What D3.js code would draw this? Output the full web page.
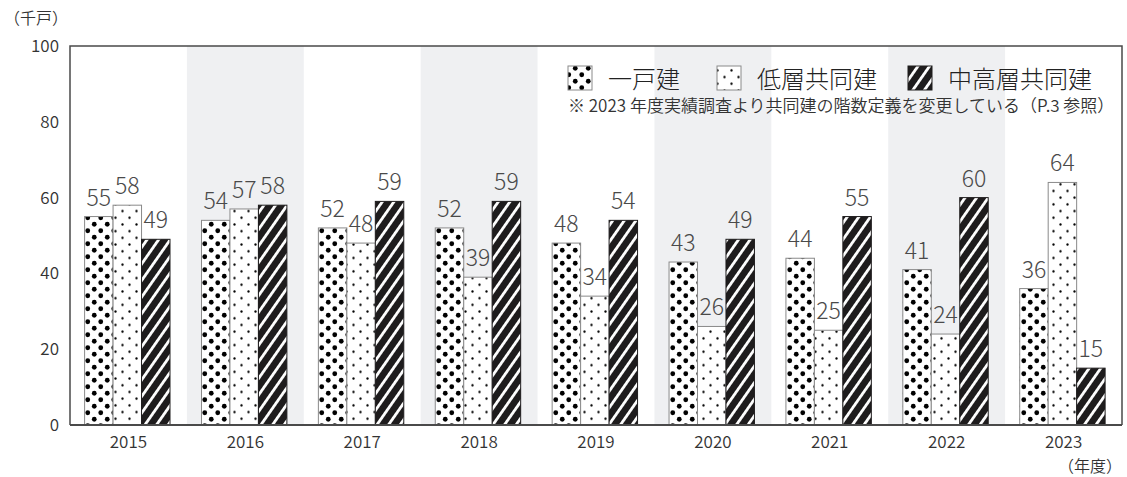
<!DOCTYPE html>
<html>
<head>
<meta charset="utf-8">
<script src="https://cdn.jsdelivr.net/npm/d3@7"></script>
<style>
  html, body { margin: 0; padding: 0; background: #fff; }
  svg { display: block; font-family: "Noto Sans CJK JP", "Noto Sans", sans-serif; font-weight: 350; }
</style>
</head>
<body>
<svg id="chart" width="1127" height="477"></svg>
<script>
// 住宅着工（千戸）: 一戸建・低層共同建・中高層共同建
const years = ["2015", "2016", "2017", "2018", "2019", "2020", "2021", "2022", "2023"];
const seriesNames = ["一戸建", "低層共同建", "中高層共同建"];
const detached = [55, 54, 52, 52, 48, 43, 44, 41, 36];
const lowRise = [58, 57, 48, 39, 34, 26, 25, 24, 64];
const midHighRise = [49, 58, 59, 59, 54, 49, 55, 60, 15];
const yTicks = [0, 20, 40, 60, 80, 100];
const unitLabel = "（千戸）";
const yearLabel = "（年度）";
const note = "※ 2023 年度実績調査より共同建の階数定義を変更している（P.3 参照）";

const seriesValues = [detached, lowRise, midHighRise];

const svg = d3.select("#chart");
const plotLeft = 70, plotRight = 1122, plotTop = 46, plotBottom = 425;

const x = d3.scaleBand().domain(years).range([plotLeft, plotRight]).padding(0);
const xi = d3.scaleBand().domain([0, 1, 2]).range([14.6, 100]).padding(0);
const y = d3.scaleLinear().domain([0, 100]).range([plotBottom, plotTop]);

// fill patterns
const defs = svg.append("defs");
const pBig = defs.append("pattern").attr("id", "dotsBig")
  .attr("patternUnits", "userSpaceOnUse").attr("width", 13).attr("height", 13);
pBig.append("rect").attr("width", 13).attr("height", 13).attr("fill", "#fff");
pBig.append("circle").attr("cx", 3.25).attr("cy", 3.25).attr("r", 2.4).attr("fill", "#000");
pBig.append("circle").attr("cx", 9.75).attr("cy", 9.75).attr("r", 2.4).attr("fill", "#000");

const pSmall = defs.append("pattern").attr("id", "dotsSmall")
  .attr("patternUnits", "userSpaceOnUse").attr("width", 14).attr("height", 13.4);
pSmall.append("rect").attr("width", 14).attr("height", 13.4).attr("fill", "#fff");
pSmall.append("circle").attr("cx", 3.5).attr("cy", 3.35).attr("r", 1.15).attr("fill", "#000");
pSmall.append("circle").attr("cx", 10.5).attr("cy", 10.05).attr("r", 1.15).attr("fill", "#000");

const pHatch = defs.append("pattern").attr("id", "hatch")
  .attr("patternUnits", "userSpaceOnUse").attr("width", 9.5).attr("height", 9.5)
  .attr("patternTransform", "rotate(35)");
pHatch.append("rect").attr("width", 9.5).attr("height", 9.5).attr("fill", "#1e1c1d");
pHatch.append("rect").attr("x", 0).attr("width", 2.8).attr("height", 9.5).attr("fill", "#fff");

const fills = ["url(#dotsBig)", "url(#dotsSmall)", "url(#hatch)"];
const strokes = ["#8a8a8a", "#8a8a8a", "#1e1c1d"];

// alternating background bands
svg.append("g").selectAll("rect")
  .data(years.filter((d, i) => i % 2 === 1))
  .join("rect")
  .attr("x", d => x(d)).attr("y", plotTop)
  .attr("width", x.bandwidth()).attr("height", plotBottom - plotTop)
  .attr("fill", "#eff0f2");

// frame
svg.append("path")
  .attr("d", `M${plotLeft},${plotBottom}V${plotTop}H${plotRight}V${plotBottom}`)
  .attr("fill", "none").attr("stroke", "#4a4a4a").attr("stroke-width", 1.5);

// bars
const rows = [];
years.forEach((yr, i) => seriesValues.forEach((vals, s) => rows.push({ yr, s, v: vals[i] })));

svg.append("g").selectAll("rect").data(rows).join("rect")
  .attr("x", d => x(d.yr) + xi(d.s))
  .attr("y", d => y(d.v))
  .attr("width", xi.bandwidth())
  .attr("height", d => y(0) - y(d.v))
  .attr("fill", d => fills[d.s])
  .attr("stroke", d => strokes[d.s])
  .attr("stroke-width", 1);

// value labels
svg.append("g").selectAll("text").data(rows).join("text")
  .attr("x", d => x(d.yr) + xi(d.s) + xi.bandwidth() / 2)
  .attr("y", d => y(d.v) - 11)
  .attr("text-anchor", "middle")
  .attr("font-size", 23)
  .attr("font-weight", 300)
  .attr("fill", "#4a4a4a")
  .text(d => d.v);

// x axis line
svg.append("line")
  .attr("x1", plotLeft).attr("x2", plotRight).attr("y1", plotBottom).attr("y2", plotBottom)
  .attr("stroke", "#4a4a4a").attr("stroke-width", 1.8);

// y axis
const yAxis = svg.append("g").attr("transform", `translate(${plotLeft},0)`)
  .call(d3.axisLeft(y).tickValues(yTicks).tickSize(0).tickPadding(11));
yAxis.select(".domain").remove();
yAxis.selectAll("text").attr("font-size", 17).attr("fill", "#333")
  .attr("font-family", "'Noto Sans CJK JP', sans-serif").attr("font-weight", 350);

// x axis labels
const xAxis = svg.append("g").attr("transform", `translate(0,${plotBottom})`)
  .call(d3.axisBottom(x).tickSize(0).tickPadding(11));
xAxis.select(".domain").remove();
xAxis.selectAll("text").attr("font-size", 17).attr("fill", "#333")
  .attr("font-family", "'Noto Sans CJK JP', sans-serif").attr("font-weight", 350);

// unit labels
svg.append("text").attr("x", 4).attr("y", 24).attr("font-size", 16).attr("fill", "#333").text(unitLabel);
svg.append("text").attr("x", 1122).attr("y", 472).attr("text-anchor", "end")
  .attr("font-size", 16).attr("fill", "#333").text(yearLabel);

// legend
const legendX = [568, 717, 908];
const legend = svg.append("g");
seriesNames.forEach((name, s) => {
  legend.append("rect")
    .attr("x", legendX[s]).attr("y", 66).attr("width", 24).attr("height", 24)
    .attr("fill", fills[s]).attr("stroke", strokes[s]).attr("stroke-width", 1);
  legend.append("text")
    .attr("x", legendX[s] + 40).attr("y", 88)
    .attr("font-size", 24).attr("font-weight", 300).attr("fill", "#222").text(name);
});
legend.append("text").attr("x", 568).attr("y", 112)
  .attr("font-size", 17).attr("fill", "#333").text(note);
</script>
</body>
</html>
